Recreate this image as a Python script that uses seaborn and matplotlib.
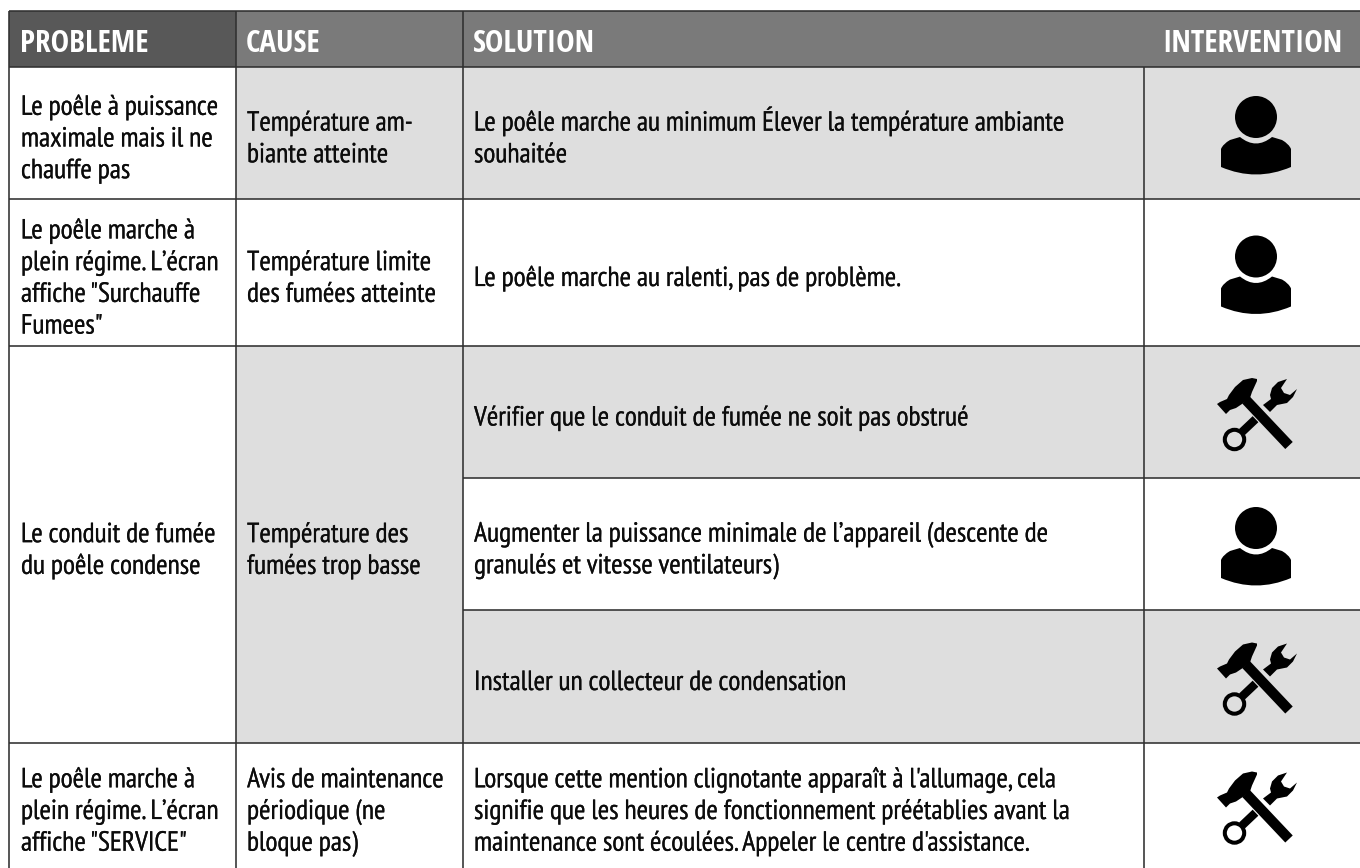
import numpy as np
import matplotlib
matplotlib.use("Agg")
import matplotlib.pyplot as plt
import matplotlib.patheffects as pe
import seaborn as sns
from matplotlib.colors import ListedColormap
from matplotlib.patches import Circle, PathPatch
from matplotlib.path import Path

HEADERS = ["PROBLEME", "CAUSE", "SOLUTION", "INTERVENTION"]

PROBLEMS = [
    ["Le poêle à puissance", "maximale mais il ne", "chauffe pas"],
    ["Le poêle marche à", "plein régime. L’écran", "affiche \"Surchauffe", "Fumees\""],
    ["Le conduit de fumée", "du poêle condense"],
    ["Le poêle marche à", "plein régime. L’écran", "affiche \"SERVICE\""],
]
CAUSES = [
    ["Température am-", "biante atteinte"],
    ["Température limite", "des fumées atteinte"],
    ["Température des", "fumées trop basse"],
    ["Avis de maintenance", "périodique (ne", "bloque pas)"],
]
SOLUTIONS = [
    ["Le poêle marche au minimum Élever la température ambiante", "souhaitée"],
    ["Le poêle marche au ralenti, pas de problème."],
    ["Vérifier que le conduit de fumée ne soit pas obstrué"],
    ["Augmenter la puissance minimale de l’appareil (descente de", "granulés et vitesse ventilateurs)"],
    ["Installer un collecteur de condensation"],
    ["Lorsque cette mention clignotante apparaît à l'allumage, cela",
     "signifie que les heures de fonctionnement préétablies avant la",
     "maintenance sont écoulées. Appeler le centre d'assistance."],
]
INTERVENTIONS = ["user", "user", "tools", "user", "tools", "tools"]
SOLUTION_SHADED = [1, 0, 1, 0, 1, 0]
CAUSE_SHADED = [1, 0, 1, 0]

COL_EDGES = [9, 236, 463, 1144, 1360]
ROW_EDGES = [11, 67, 199, 346, 743, 868]
SOLUTION_EDGES = [67, 199, 346, 478, 610, 743, 868]

WHITE, GREY, HEAD, HEAD_DARK = 0, 1, 2, 3
COLORS = ["#ffffff", "#dedede", "#7a7a7a", "#585858"]
LINE = "#303030"
TEXT = "#0c0c0c"
BODY_FONT = ["PT Sans Narrow", "Open Sans"]
HEAD_FONT = ["Open Sans Condensed", "Open Sans"]
BODY_PT = 19.95
HEAD_PT = 22.4
PITCH = 31.7


def shade_matrix():
    shade = np.zeros((868, 1360), dtype=int)
    shade[ROW_EDGES[0]:ROW_EDGES[1], COL_EDGES[0]:] = HEAD
    shade[ROW_EDGES[0]:ROW_EDGES[1], COL_EDGES[0]:COL_EDGES[1]] = HEAD_DARK
    for i, on in enumerate(CAUSE_SHADED):
        if on:
            shade[ROW_EDGES[i + 1]:ROW_EDGES[i + 2], COL_EDGES[1]:COL_EDGES[2]] = GREY
    for i, on in enumerate(SOLUTION_SHADED):
        if on:
            shade[SOLUTION_EDGES[i]:SOLUTION_EDGES[i + 1], COL_EDGES[2]:] = GREY
    return shade


def draw_lines(ax):
    kw = dict(color=LINE, lw=1.15, zorder=3)
    ax.hlines(ROW_EDGES[:-1], COL_EDGES[0], COL_EDGES[-1], **kw)
    ax.hlines(SOLUTION_EDGES[3:5], COL_EDGES[2], COL_EDGES[-1], **kw)
    ax.vlines(COL_EDGES[:3], ROW_EDGES[0], ROW_EDGES[-1], **kw)
    ax.vlines(COL_EDGES[3], ROW_EDGES[1], ROW_EDGES[-1], **kw)


def draw_cell(ax, x, top, bottom, lines):
    mid = (top + bottom) / 2
    for i, line in enumerate(lines):
        y = mid + 13.5 + (i - (len(lines) - 1) / 2) * PITCH
        ax.text(x, y, line, fontsize=BODY_PT, family=BODY_FONT, color=TEXT,
                va="baseline", ha="left", zorder=5,
                path_effects=[pe.withStroke(linewidth=0.15, foreground=TEXT)])


def draw_user(ax, cx, cy):
    ax.add_patch(Circle((cx, cy - 16), 21, color="black", lw=0, zorder=5))
    verts = [(-35, 29), (-35, 11), (-33, 6), (-26, 2), (-16, -1), (0, 12), (16, -1), (26, 2),
             (33, 6), (35, 11), (35, 29), (0, 44), (-35, 29), (-35, 29)]
    codes = [Path.MOVETO, Path.LINETO, Path.CURVE3, Path.CURVE3, Path.LINETO, Path.CURVE3, Path.CURVE3,
             Path.LINETO, Path.CURVE3, Path.CURVE3, Path.LINETO, Path.CURVE3, Path.CURVE3, Path.CLOSEPOLY]
    verts = [(x + cx, y + cy + 5) for x, y in verts]
    ax.add_patch(PathPatch(Path(verts, codes), fc="black", ec="none", zorder=5))


def draw_tools(ax, cx, cy, bg):
    # wrench
    ax.add_patch(Circle((cx - 21.5, cy + 27.5), 9.7, fc="none", ec="black", lw=2.9, zorder=5))
    ax.plot([cx - 14, cx + 5], [cy + 20, cy + 2], color="black", lw=6.0, solid_capstyle="butt", zorder=5)
    jaw = [(31, -33), (22, -30), (16, -24), (14, -17), (15, -13), (7, -7), (14, 0), (21, -7), (31, -9),
           (37, -15), (41, -23), (34, -17), (28, -19), (25, -24), (31, -33)]
    ax.fill([x + cx for x, y in jaw], [y + cy for x, y in jaw], color="black", lw=0, zorder=5)
    # hammer on top, with a gap round the handle
    ax.plot([cx - 8, cx + 30], [cy - 10, cy + 30], color=bg, lw=9.2, solid_capstyle="butt", zorder=6)
    ax.plot([cx - 10, cx + 33], [cy - 12, cy + 33.5], color="black", lw=7.4, solid_capstyle="butt", zorder=7)
    head = [(1, -33), (-4, -34), (-13, -32), (-21, -25), (-27, -17), (-29, -13), (-36, -10), (-39, -8),
            (-30, 2), (-26, -2), (-20, -4), (-14, -8), (-6, -14), (-4, -20), (1, -31)]
    ax.fill([x + cx for x, y in head], [y + cy for x, y in head], color="black", lw=0, zorder=7)


def main():
    sns.set_theme(style="white")

    fig = plt.figure(figsize=(13.6, 8.68), dpi=100)
    ax = fig.add_axes([0, 0, 1, 1])
    sns.heatmap(shade_matrix(), ax=ax, cmap=ListedColormap(COLORS), vmin=-0.5, vmax=3.5,
                cbar=False, xticklabels=False, yticklabels=False, rasterized=True)
    ax.set_xlim(0, 1360)
    ax.set_ylim(868, 0)
    draw_lines(ax)

    header_x = [20, 246, 473, 1162]
    for x, label in zip(header_x, HEADERS):
        ax.text(x, 52, label, fontsize=HEAD_PT, family=HEAD_FONT, fontweight="bold", color="white",
                va="baseline", ha="left", zorder=5)

    for i in range(4):
        top, bottom = ROW_EDGES[i + 1], ROW_EDGES[i + 2]
        draw_cell(ax, 21, top, bottom, PROBLEMS[i])
        draw_cell(ax, 247, top, bottom, CAUSES[i])

    for i, lines in enumerate(SOLUTIONS):
        top, bottom = SOLUTION_EDGES[i], SOLUTION_EDGES[i + 1]
        draw_cell(ax, 474, top, bottom, lines)
        mid = (top + bottom) / 2
        if INTERVENTIONS[i] == "user":
            draw_user(ax, 1256, mid)
        else:
            draw_tools(ax, 1256, mid, COLORS[SOLUTION_SHADED[i]])

    ax.axis("off")
    fig.savefig("out.png", dpi=100)


if __name__ == "__main__":
    main()
